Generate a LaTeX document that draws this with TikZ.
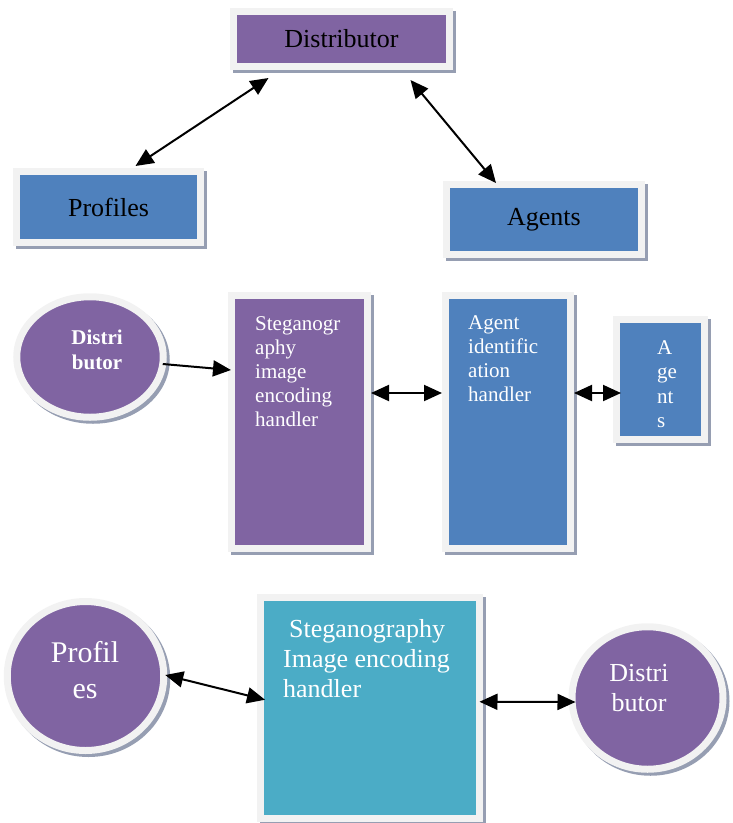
\documentclass[tikz,border=0pt]{standalone}
\usepackage{fontspec}
\setmainfont{Liberation Serif}
\usetikzlibrary{arrows.meta,shadows,positioning,shapes.geometric}
\definecolor{framegray}{RGB}{242,242,242}
\definecolor{shadegray}{RGB}{150,158,178}
\definecolor{violetbox}{RGB}{128,100,162}
\definecolor{bluebox}{RGB}{79,129,189}
\definecolor{cyanbox}{RGB}{75,172,198}
\tikzset{
  framed/.style={draw=framegray, line width=7pt, inner sep=0pt,
    drop shadow={shadow xshift=3pt, shadow yshift=-3pt, fill=shadegray, draw=shadegray, line width=7pt, opacity=1}},
  boxnode/.style={framed, rectangle, minimum width=#1},
  roundnode/.style={framed, ellipse},
  txt/.style={inner sep=0pt, anchor=north west, align=left, text=white},
  roundtxt/.style={inner sep=0pt, align=center, text=white},
  link/.style={line width=2pt, -{Triangle[length=18pt,width=16pt]}},
  dlink/.style={line width=2pt, {Triangle[length=18pt,width=16pt]}-{Triangle[length=18pt,width=16pt]}}
}
\begin{document}
\begin{tikzpicture}[x=1pt,y=-1pt]
  \useasboundingbox (0,0) rectangle (732,823);
  \node[boxnode=216pt, minimum height=55pt, fill=violetbox, font=\fontsize{26}{30}\selectfont] (dist) at (341.5,39) {Distributor};
  \node[boxnode=184pt, minimum height=71pt, fill=bluebox, font=\fontsize{26}{30}\selectfont] (prof) at (108.5,207) {Profiles};
  \node[boxnode=195pt, minimum height=70pt, fill=bluebox, font=\fontsize{26}{30}\selectfont] (agents) at (544,219.5) {Agents};
  \draw[dlink] ([xshift=27pt,yshift=2pt]prof.north) -- ([xshift=-73pt,yshift=-8pt]dist.south);
  \draw[dlink] ([xshift=69pt,yshift=-10pt]dist.south) -- ([xshift=-48pt,yshift=-2pt]agents.north);

  \node[roundnode, fill=violetbox, minimum width=146.5pt, minimum height=120.5pt] (distr) at (90,357) {};
  \node[roundtxt, font=\fontsize{21}{25}\selectfont\bfseries] (distrtxt) at (97,350) {Distri\\butor};
  \node[boxnode=136pt, minimum height=253pt, fill=violetbox] (steg) at (299.5,422) {};
  \node[txt, font=\fontsize{21}{24}\selectfont] (stegtxt) at (255,316) {Steganogr\\aphy\\image\\encoding\\handler};
  \node[boxnode=125pt, minimum height=253pt, fill=bluebox] (agid) at (508,422) {};
  \node[txt, font=\fontsize{21}{24}\selectfont] (agidtxt) at (468,315) {Agent\\identific\\ation\\handler};
  \node[boxnode=88pt, minimum height=120pt, fill=bluebox] (agsmall) at (660.5,379.5) {};
  \node[txt, font=\fontsize{21}{24.5}\selectfont] (agsmalltxt) at (657,340) {A\\ge\\nt\\s};
  \draw[link] ([xshift=-4pt,yshift=-7pt]distr.east) -- ([xshift=3pt,yshift=52pt]steg.west);
  \draw[dlink] ([yshift=29pt]steg.east) -- ([yshift=29pt]agid.west);
  \draw[dlink] ([yshift=29pt]agid.east) -- ([xshift=8pt,yshift=-13.5pt]agsmall.west);

  \node[roundnode, fill=violetbox, minimum width=156.5pt, minimum height=149pt] (profc) at (85.5,676) {};
  \node[roundtxt, font=\fontsize{30}{36}\selectfont] (profctxt) at (85,670) {Profil\\es};
  \node[boxnode=218.5pt, minimum height=221.5pt, fill=cyanbox] (stegc) at (369.75,707.75) {};
  \node[txt, font=\fontsize{26}{30}\selectfont] (stegctxt) at (283,619) {\hspace*{6pt}Steganography\\Image encoding\\handler};
  \node[roundnode, fill=violetbox, minimum width=151pt, minimum height=142.5pt] (distc) at (647.5,698) {};
  \node[roundtxt, font=\fontsize{26}{30}\selectfont] (distctxt) at (639,688) {Distri\\butor};
  \draw[dlink] ([xshift=-2pt,yshift=1pt]profc.east) -- ([xshift=8pt,yshift=8pt]stegc.west);
  \draw[dlink] ([xshift=-3pt,yshift=6pt]stegc.east) -- ([xshift=7pt,yshift=-4pt]distc.west);
\end{tikzpicture}
\end{document}
